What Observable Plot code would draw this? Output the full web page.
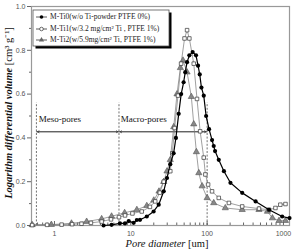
<!DOCTYPE html>
<html>
<head>
<meta charset="utf-8">
<script src="https://cdn.jsdelivr.net/npm/d3@7"></script>
<script src="https://cdn.jsdelivr.net/npm/@observablehq/plot@0.6"></script>
<style>
  html, body { margin: 0; padding: 0; background: #fff; }
  #chart { position: relative; width: 292px; height: 251px; }
</style>
</head>
<body>
<div id="chart"></div>
<script>
// Series names
const seriesNames = [
  "M-Ti0(w/o Ti-powder PTFE 0%)",
  "M-Ti1(w/3.2 mg/cm\u00B2 Ti , PTFE 1%)",
  "M-Ti2(w/5.9mg/cm\u00B2 Ti, PTFE 1%)"
];

// M-Ti0 (filled circles)
const d0 = [4.4, 5.6, 7.2, 8.4, 9.4, 10.9, 12, 13.2, 16.2, 19.9, 23.2, 27, 29.8, 32.9, 36.4, 39, 42.4, 45.7, 49.2, 51.7, 54.6, 58.5, 64.6, 71.5, 76, 80, 84.2, 90.3, 97, 106, 116, 122, 127, 142, 166, 202, 288, 432, 647, 962, 1200];
const v0 = [0.0, 0.003, 0.01, 0.01, 0.02, 0.012, 0.025, 0.026, 0.041, 0.064, 0.095, 0.156, 0.217, 0.28, 0.33, 0.40, 0.51, 0.60, 0.654, 0.70, 0.746, 0.777, 0.792, 0.777, 0.73, 0.69, 0.63, 0.593, 0.50, 0.44, 0.39, 0.363, 0.34, 0.30, 0.248, 0.195, 0.149, 0.11, 0.072, 0.041, 0.034];

// M-Ti1 (open squares)
const d1 = [0.51, 0.8, 1.24, 1.7, 2.26, 3.0, 4.15, 5.5, 7.0, 8.4, 10.5, 13.9, 17.8, 20.9, 24, 27, 32.9, 35, 37.5, 41.5, 45.6, 50.6, 54.6, 58.5, 66.8, 73.7, 81, 90.3, 94.8, 103, 116, 142, 193, 288, 478, 647, 785, 910, 1063];
const v1 = [0.002, 0.003, 0.004, 0.006, 0.008, 0.012, 0.018, 0.028, 0.038, 0.046, 0.055, 0.064, 0.085, 0.11, 0.15, 0.2, 0.248, 0.33, 0.445, 0.593, 0.739, 0.854, 0.892, 0.854, 0.739, 0.578, 0.43, 0.31, 0.233, 0.187, 0.156, 0.126, 0.103, 0.087, 0.077, 0.072, 0.08, 0.095, 0.098];

// M-Ti2 (triangles)
const d2 = [0.51, 0.91, 1.67, 2.64, 4.15, 5.6, 8.3, 12, 16.2, 20, 23.4, 27, 29.8, 32.9, 36.5, 40.3, 44.6, 48.3, 54.6, 62.1, 66.8, 72.3, 77.8, 86, 100, 122, 173, 288, 478, 617, 717, 875, 1063];
const v2 = [0.003, 0.004, 0.01, 0.018, 0.03, 0.042, 0.058, 0.072, 0.09, 0.115, 0.156, 0.2, 0.248, 0.30, 0.45, 0.60, 0.72, 0.754, 0.70, 0.588, 0.463, 0.336, 0.24, 0.18, 0.126, 0.103, 0.08, 0.072, 0.072, 0.064, 0.034, 0.022, 0.022];

// Axis ticks
const xMajorTicks = [1, 10, 100, 1000];
const xMinorTicks = [0.6, 0.7, 0.8, 0.9, 2, 3, 4, 5, 6, 7, 8, 9, 20, 30, 40, 50, 60, 70, 80, 90, 200, 300, 400, 500, 600, 700, 800, 900];
const yMajorTicks = [0, 0.2, 0.4, 0.6, 0.8, 1.0];
const yMinorTicks = [0.1, 0.3, 0.5, 0.7, 0.9];

// Annotations: region boundaries and labels
const boundaries = [0.58, 7, 100];
const boundaryTop = 0.56;
const regionFrom = [0.58, 7];
const regionTo = [7, 100];
const regionLabels = ["Meso-pores", "Macro-pores"];
const regionLabelX = [0.62, 7.4];
const arrowLevel = 0.428;
const labelLevel = 0.487;

const ti0 = d0.map((d, i) => ({d, v: v0[i]}));
const ti1 = d1.map((d, i) => ({d, v: v1[i]}));
const ti2 = d2.map((d, i) => ({d, v: v2[i]}));
const rules = boundaries.map(b => ({x: b, y1: 0, y2: boundaryTop}));
const arrows = regionFrom.map((a, i) => ({a, b: regionTo[i], y: arrowLevel}));
const labels = regionLabels.map((t, i) => ({t, x: regionLabelX[i], y: labelLevel}));

const serif = "'Liberation Serif', 'Times New Roman', serif";

const chart = Plot.plot({
  width: 292,
  height: 251,
  marginLeft: 31,
  marginRight: 3,
  marginTop: 6,
  marginBottom: 26,
  x: {type: "log", domain: [0.5, 1200]},
  y: {domain: [0, 1]},
  style: {fontFamily: "'Liberation Sans', Arial, sans-serif", fontSize: "7px", color: "#555", background: "#fff"},
  marks: [
    Plot.frame({stroke: "#999", strokeWidth: 1.2}),
    Plot.axisY({ticks: yMajorTicks, tickSize: 4, tickPadding: 2, tickFormat: d3.format(".1f"), label: null, stroke: "#666"}),
    Plot.axisY({ticks: yMinorTicks, tickSize: 2, tickFormat: () => "", label: null, stroke: "#666"}),
    Plot.axisX({ticks: xMajorTicks, tickSize: 4, dy: -4, tickFormat: () => "", label: null, stroke: "#666"}),
    Plot.axisX({ticks: xMajorTicks, tickSize: 0, tickPadding: 6, tickFormat: d => String(d), label: null, fontSize: 7}),
    Plot.axisX({ticks: xMinorTicks, tickSize: 2.5, dy: -2.5, tickFormat: () => "", label: null, stroke: "#666"}),
    Plot.ruleX(rules, {x: "x", y1: "y1", y2: "y2", stroke: "#333", strokeWidth: 0.7, strokeDasharray: "2,1.6"}),
    Plot.arrow(arrows, {x1: "a", x2: "b", y1: "y", y2: "y", stroke: "#333", strokeWidth: 0.7, headLength: 4, insetEnd: 1}),
    Plot.arrow(arrows, {x1: "b", x2: "a", y1: "y", y2: "y", stroke: "#333", strokeWidth: 0.7, headLength: 4, insetEnd: 1}),
    Plot.text(labels, {x: "x", y: "y", text: "t", textAnchor: "start", fontSize: 9, fontFamily: serif, fill: "#111"}),
    // M-Ti2 triangles
    Plot.line(ti2, {x: "d", y: "v", stroke: "#777", strokeWidth: 0.7}),
    Plot.dot(ti2, {x: "d", y: "v", symbol: "triangle", r: 2.3, fill: "#888", stroke: "#555", strokeWidth: 0.6}),
    // M-Ti1 squares
    Plot.line(ti1, {x: "d", y: "v", stroke: "#777", strokeWidth: 0.7}),
    Plot.dot(ti1, {x: "d", y: "v", symbol: "square", r: 2, fill: "#fff", stroke: "#333", strokeWidth: 0.7}),
    // M-Ti0 circles
    Plot.line(ti0, {x: "d", y: "v", stroke: "#000", strokeWidth: 1.2}),
    Plot.dot(ti0, {x: "d", y: "v", r: 2.1, fill: "#000", stroke: "none"})
  ]
});

document.getElementById("chart").appendChild(chart);

// Legend, axis titles drawn into the SVG
const svg = d3.select(chart);
const lg = svg.append("g").attr("text-anchor", "start");
lg.append("rect").attr("x", 35.5).attr("y", 12.5).attr("width", 136).attr("height", 36).style("fill", "#000");
lg.append("rect").attr("x", 33).attr("y", 10).attr("width", 136).attr("height", 36).style("fill", "#fff").style("stroke", "#555").style("stroke-width", "0.8px");
const rowY = [17, 29, 40];
seriesNames.forEach((name, i) => {
  const y = rowY[i];
  lg.append("line").attr("x1", 36).attr("x2", 47).attr("y1", y).attr("y2", y).style("stroke", "#333").style("stroke-width", "0.8px");
  if (i === 0) {
    lg.append("circle").attr("cx", 41.5).attr("cy", y).attr("r", 1.8).style("fill", "#000");
  } else if (i === 1) {
    lg.append("circle").attr("cx", 41.5).attr("cy", y).attr("r", 1.8).style("fill", "#fff").style("stroke", "#333").style("stroke-width", "0.7px");
  } else {
    lg.append("path").attr("d", d3.symbol(d3.symbolTriangle, 12)()).attr("transform", `translate(41.5,${y})`).style("fill", "#666");
  }
  lg.append("text").attr("x", 50).attr("y", y).attr("dy", "0.32em").attr("text-anchor", "start")
    .style("font-family", serif).style("font-size", "7.5px").style("fill", "#222").text(name);
});

const yt = svg.append("text")
  .attr("transform", "translate(12,113) rotate(-90)")
  .attr("text-anchor", "middle")
  .style("font-family", serif).style("font-size", "10.5px").style("fill", "#111");
yt.append("tspan").style("font-style", "italic").style("font-weight", "bold").text("Logarithm differential volume ");
yt.append("tspan").text("[cm\u00B3 g\u207B\u00B9]");

const xt = svg.append("text")
  .attr("x", 167).attr("y", 247)
  .attr("text-anchor", "middle")
  .style("font-family", serif).style("font-size", "10.5px").style("fill", "#111");
xt.append("tspan").style("font-style", "italic").text("Pore diameter ");
xt.append("tspan").text("[um]");
</script>
</body>
</html>
